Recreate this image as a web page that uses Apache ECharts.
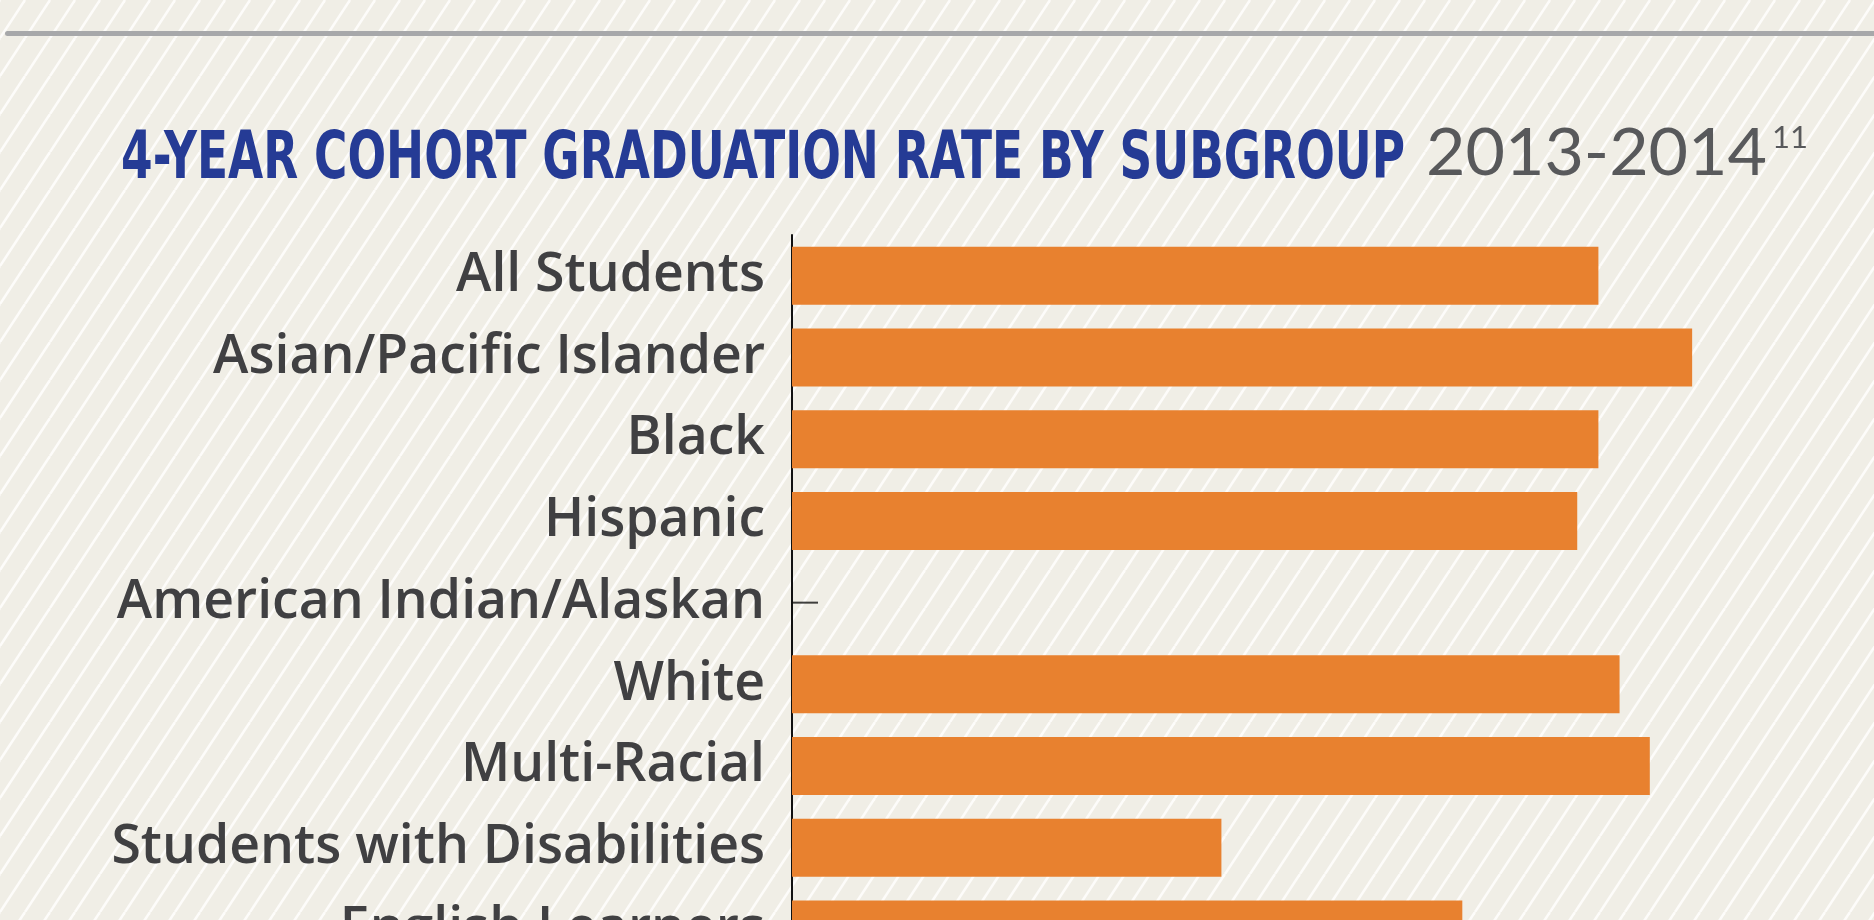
<!DOCTYPE html>
<html>
<head>
<meta charset="utf-8">
<title>4-Year Cohort Graduation Rate by Subgroup</title>
<script src="https://cdn.jsdelivr.net/npm/echarts@6/dist/echarts.min.js"></script>
<style>
    html, body { margin: 0; padding: 0; overflow: hidden; background: #f0eee6; }
    #gradChart { width: 1874px; height: 1000px; }
</style>
</head>
<body>
<div id="gradChart"></div>
<script>
// subgroups, top to bottom
var subgroups = [
    'All Students',
    'Asian/Pacific Islander',
    'Black',
    'Hispanic',
    'American Indian/Alaskan',
    'White',
    'Multi-Racial',
    'Students with Disabilities',
    'English Learners'
];
// graduation rate (%), null = no data shown (dash)
var gradRates = [80.0, 89.3, 80.0, 77.9, null, 82.1, 85.1, 42.6, 66.5];

var titleMain = '4-YEAR COHORT GRADUATION RATE BY SUBGROUP';
var titleYears = '2013-2014';
var titleNote = '11';

function makeStripes() { // diagonal stripe tile for the background
    var w = 25, h = 38;
    var tile = document.createElement('canvas');
    tile.width = w;
    tile.height = h;
    var ctx = tile.getContext('2d');
    ctx.fillStyle = '#f0eee6';
    ctx.fillRect(0, 0, w, h);
    ctx.strokeStyle = '#fdfcfa';
    ctx.lineWidth = 2.6;
    for (var k = -1; k <= 1; k++) {
        ctx.beginPath();
        ctx.moveTo(k * w, h);
        ctx.lineTo(k * w + w, 0);
        ctx.stroke();
    }
    return tile;
}

function fitScale(text, font, width) { // horizontal squeeze so the text spans `width`
    var ctx = document.createElement('canvas').getContext('2d');
    ctx.font = font;
    return width / ctx.measureText(text).width;
}

var blueFont = 'bold 65px "Liberation Sans Narrow", "DejaVu Sans Condensed", sans-serif';
var grayFont = '400 66px Lato, "Open Sans", sans-serif';

var noData = subgroups.map(function (s, i) {
    return gradRates[i] === null ? [0, s] : null;
}).filter(function (d) { return d; });

var chart = echarts.init(document.getElementById('gradChart'));
chart.setOption({
    backgroundColor: { image: makeStripes(), repeat: 'repeat' },
    animation: false,
    graphic: [
        {
            type: 'rect',
            shape: { x: 5, y: 31, width: 1890, height: 5, r: 2.5 },
            style: { fill: '#a7a8aa' }
        },
        {
            type: 'text',
            x: 121, y: 161,
            scaleX: fitScale(titleMain, blueFont, 1284),
            style: { text: titleMain, font: blueFont, fill: '#253b95', verticalAlign: 'middle' }
        },
        {
            type: 'text',
            x: 1426, y: 154,
            scaleX: fitScale(titleYears, grayFont, 341),
            style: { text: titleYears, font: grayFont, fill: '#58595b', verticalAlign: 'middle' }
        },
        {
            type: 'text',
            x: 1772, y: 122,
            style: { text: titleNote, font: '400 31px Lato, sans-serif', fill: '#58595b', verticalAlign: 'top' }
        }
    ],
    grid: {
        left: 792,
        top: 235,
        width: 1008,
        height: subgroups.length * 81.7
    },
    xAxis: {
        type: 'value',
        min: 0,
        max: 100,
        show: false
    },
    yAxis: {
        type: 'category',
        inverse: true,
        data: subgroups,
        axisLine: { show: true, lineStyle: { color: '#111111', width: 2 } },
        axisTick: { show: false },
        axisLabel: {
            margin: 27,
            color: '#404042',
            fontFamily: '"Open Sans", sans-serif',
            fontWeight: 600,
            fontSize: 53.5
        }
    },
    series: [
        {
            type: 'bar',
            data: gradRates,
            barWidth: 58,
            itemStyle: { color: '#e8812f' }
        },
        {
            type: 'scatter',
            data: noData,
            symbol: 'rect',
            symbolSize: [26, 2],
            symbolOffset: [13, 0],
            itemStyle: { color: '#111111' }
        }
    ]
});
</script>
</body>
</html>
